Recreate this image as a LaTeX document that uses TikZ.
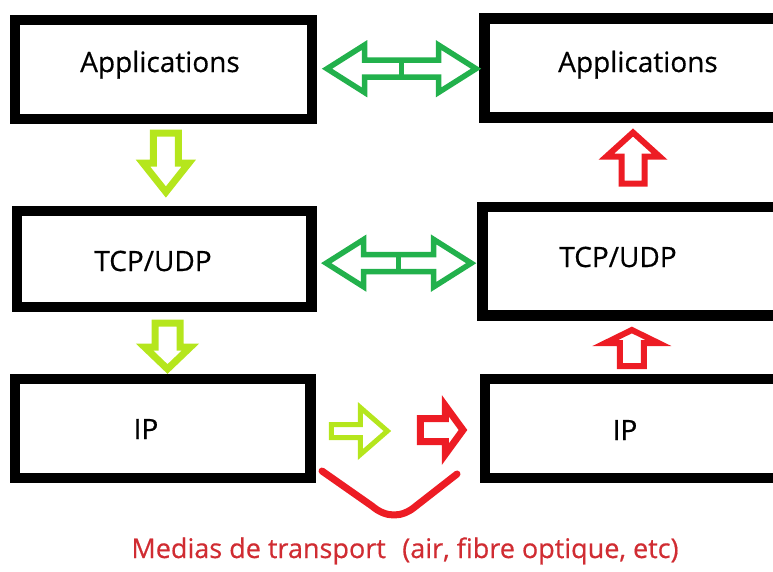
\documentclass[tikz,border=0pt]{standalone}
\usepackage{fontspec}
\setmainfont{Open Sans}
\newfontfamily\paintfont[FakeBold=0.5]{Open Sans}
\usepackage{tikz}
\usetikzlibrary{calc}
\definecolor{PaintGreen}{RGB}{34,177,76}
\definecolor{PaintLime}{RGB}{181,230,29}
\definecolor{PaintRed}{RGB}{237,28,36}
\definecolor{MediaRed}{RGB}{208,44,50}

\begin{document}
\begin{tikzpicture}[x=1pt, y=-1pt,
    layer/.style={draw, line width=10.5pt, inner sep=0pt, outer sep=0pt},
    laytxt/.style={anchor=base, text=black, font=\paintfont\fontsize{28}{32}\selectfont},
    % hollow block arrow pointing along +x: length, head length, head half width, shaft half width
    pics/blockarr/.style n args={4}{code={
        \draw ({-#1/2},{#4}) -- ({#1/2-#2},{#4}) -- ({#1/2-#2},{#3}) -- ({#1/2},0)
              -- ({#1/2-#2},{-#3}) -- ({#1/2-#2},{-#4}) -- ({-#1/2},{-#4}) -- cycle;
    }},
    pics/dblarr/.style n args={4}{code={
        \draw ({-#1/2},0) -- ({-#1/2+#2},{#3}) -- ({-#1/2+#2},{#4}) -- ({#1/2-#2},{#4})
              -- ({#1/2-#2},{#3}) -- ({#1/2},0) -- ({#1/2-#2},{-#3}) -- ({#1/2-#2},{-#4})
              -- ({-#1/2+#2},{-#4}) -- ({-#1/2+#2},{-#3}) -- cycle;
        \draw (0,{#4}) -- (0,{-#4});
    }},
    ]
    \useasboundingbox (0,0) rectangle (773,571);
    \clip (0,0) rectangle (773,571);

    % Sender stack
    \node[layer, minimum width=297pt, minimum height=99pt] (appL) at (163.5,69.5) {};
    \node[layer, minimum width=294.5pt, minimum height=96pt] (tcpL) at (164.25,259) {};
    \node[layer, minimum width=295.5pt, minimum height=99pt] (ipL) at (162.75,428.5) {};
    % Receiver stack
    \node[layer, minimum width=305.5pt, minimum height=99pt] (appR) at (637.25,68) {};
    \node[layer, minimum width=307.5pt, minimum height=108.5pt] (tcpR) at (636.25,261.25) {};
    \node[layer, minimum width=305pt, minimum height=99pt] (ipR) at (637.5,428.5) {};

    % Labels
    \node[laytxt] (appLtxt) at (160,72) {Applications};
    \node[laytxt] (tcpLtxt) at (153,271) {TCP/UDP};
    \node[laytxt] (ipLtxt) at (146,439) {IP};
    \node[laytxt] (appRtxt) at (638,72) {Applications};
    \node[laytxt] (tcpRtxt) at (618,267) {TCP/UDP};
    \node[laytxt] (ipRtxt) at (625,440) {IP};

    % Peer exchanges
    \pic[PaintGreen, line width=5.5pt] at ($(appL.east)!.519!(appR.west)$) {dblarr={149}{37.5}{23.7}{8.5}};
    \pic[PaintGreen, line width=5.5pt, yshift=-3pt] at ($(tcpL.east)!.51!(tcpR.west)$) {dblarr={145}{37.5}{23.7}{8.5}};

    % Going down the sender stack
    \pic[PaintLime, line width=7pt, xshift=2pt, yshift=2.5pt, rotate=-90] at ($(appL.south)!.5!(tcpL.north)$) {blockarr={59}{29}{23}{12.5}};
    \pic[PaintLime, line width=7pt, xshift=4pt, yshift=-3pt, rotate=-90] at ($(tcpL.south)!.5!(ipL.north)$) {blockarr={46}{22}{23}{12.5}};

    % Going up the receiver stack
    \pic[PaintRed, line width=6pt, xshift=-3.75pt, yshift=4.25pt, rotate=90] at ($(appR.south)!.5!(tcpR.north)$) {blockarr={51}{24}{26.5}{11.5}};
    \pic[PaintRed, line width=6pt, xshift=-5pt, yshift=-0.75pt, rotate=90] at ($(tcpR.south)!.5!(ipR.north)$) {blockarr={36}{13}{26.5}{12}};

    % Across the medium
    \pic[PaintLime, line width=5pt, yshift=-2.5pt] at ($(ipL.east)!.28!(ipR.west)$) {blockarr={56}{27}{23.5}{6.5}};
    \pic[PaintRed, line width=7pt, yshift=-1.5pt] at ($(ipL.east)!.752!(ipR.west)$) {blockarr={42.5}{17.5}{24}{11.5}};
    \draw[PaintRed, line width=7pt, line cap=round, line join=round]
        (322,471) -- (372,506) .. controls (386,518) and (402,518) .. (416,506) -- (457,474);
    \node[anchor=base, text=MediaRed, font=\paintfont\fontsize{27}{30}\selectfont] (media) at (405,558)
        {Medias de transport\hspace{0.35em} (air, fibre optique, etc)};
\end{tikzpicture}
\end{document}
